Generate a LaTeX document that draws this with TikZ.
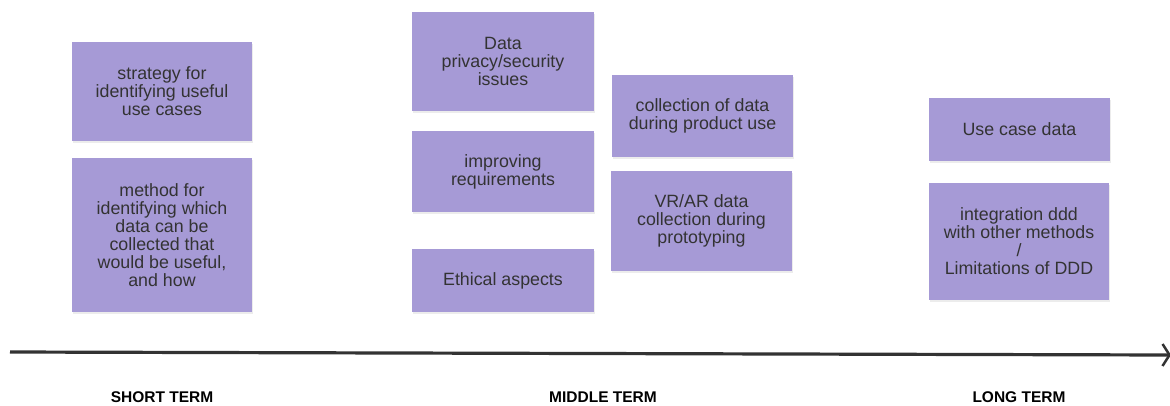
\documentclass[tikz,border=0pt]{standalone}
\usepackage{fontspec}
\setmainfont{Liberation Sans}
\usetikzlibrary{arrows.meta,shadows}
\definecolor{boxfill}{HTML}{A69AD6}
\definecolor{inkgray}{HTML}{333333}
\begin{document}
    \begin{tikzpicture}[x=1pt, y=-1pt,
        topic/.style={fill=boxfill, text=inkgray, align=center, inner sep=0pt,
            font=\fontsize{17.8}{18}\selectfont,
            drop shadow={shadow xshift=0.8pt, shadow yshift=-1.5pt, opacity=0.15}},
        term/.style={text=black, font=\fontsize{15.5}{16}\selectfont\bfseries}]
        \useasboundingbox (0,0) rectangle (1170,405);
        \node[topic, minimum width=180pt, minimum height=99pt] (strategy) at (162,91.5) {strategy for\\identifying useful\\use cases};
        \node[topic, minimum width=180pt, minimum height=154pt] (method) at (162,235) {method for\\identifying which\\data can be\\collected that\\would be useful,\\and how};
        \node[topic, minimum width=182pt, minimum height=99pt] (privacy) at (503,61.5) {Data\\privacy/security\\issues};
        \node[topic, minimum width=182pt, minimum height=81pt] (requirements) at (503,171.5) {improving\\requirements};
        \node[topic, minimum width=182pt, minimum height=63pt] (ethics) at (503,280.5) {Ethical aspects};
        \node[topic, minimum width=181pt, minimum height=82pt] (productuse) at (702.5,116) {collection of data\\during product use};
        \node[topic, minimum width=181pt, minimum height=100pt] (vrar) at (701.5,221) {VR/AR data\\collection during\\prototyping};
        \node[topic, minimum width=181pt, minimum height=63pt] (usecase) at (1019.5,129.5) {Use case data};
        \node[topic, minimum width=180pt, minimum height=117pt] (integration) at (1019,241.5) {integration ddd\\with other methods\\/\\Limitations of DDD};
        % timeline
        \coordinate (start) at (10,352);
        \coordinate (stop) at (1171,355);
        \draw[inkgray, line width=3.2pt, -{Straight Barb[length=7pt, width=22pt, line width=2.5pt]}] (start) -- (stop);
        \node[term] (short) at (162,397.5) {SHORT TERM};
        \node[term] (middle) at (603,397.5) {MIDDLE TERM};
        \node[term] (long) at (1019,397.5) {LONG TERM};
    \end{tikzpicture}
\end{document}
